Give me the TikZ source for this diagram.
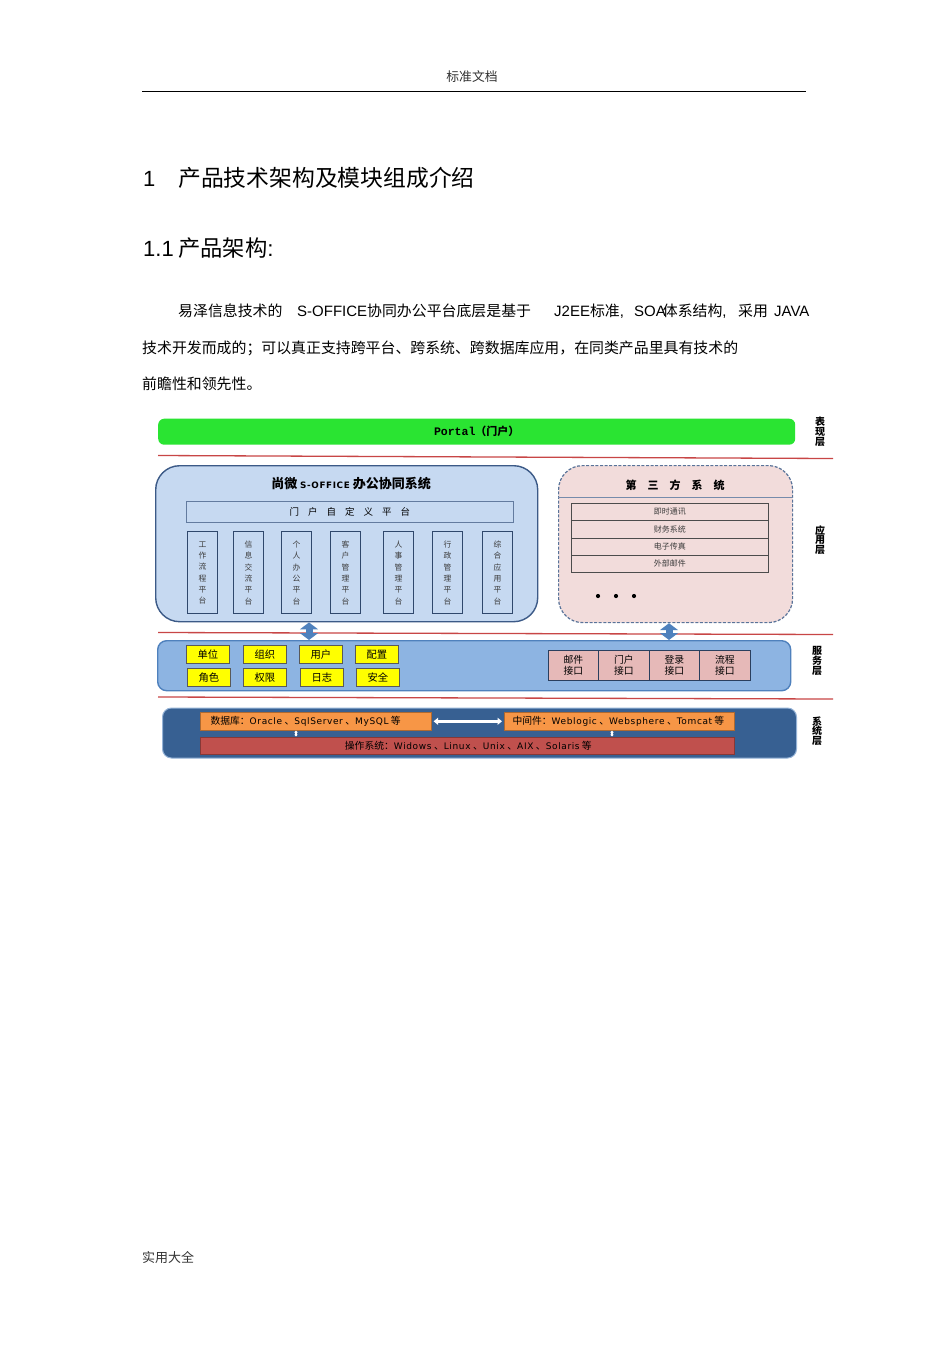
\documentclass[tikz,border=0pt]{standalone}
\usepackage{fontspec}
\setmainfont{Liberation Sans}
\newfontfamily\cjk{Noto Sans CJK SC}
\newfontfamily\lat{Liberation Sans}
\newfontfamily\mono{Liberation Mono}
\newfontfamily\dvs[LetterSpace=7]{DejaVu Sans}
\usetikzlibrary{arrows.meta}
\definecolor{cgreen}{RGB}{42,228,50}
\definecolor{cblue}{RGB}{198,217,241}
\definecolor{cborder}{RGB}{60,90,135}
\definecolor{cpink}{RGB}{242,220,219}
\definecolor{csvc}{RGB}{141,180,226}
\definecolor{csvcb}{RGB}{79,129,189}
\definecolor{cyel}{RGB}{255,255,0}
\definecolor{cifc}{RGB}{230,185,184}
\definecolor{csys}{RGB}{55,96,146}
\definecolor{corange}{RGB}{247,150,70}
\definecolor{cred}{RGB}{192,80,77}
\definecolor{cline}{RGB}{200,70,70}
\definecolor{carrow}{RGB}{79,129,189}
\definecolor{ctxt}{RGB}{60,60,60}
\newcommand{\dl}[1]{{\dvs\fontsize{9}{10}\selectfont #1}}
\newcommand{\dn}{\hspace{2.5pt}、}
\tikzset{
  cjkf/.style={font=\cjk\fontsize{#1}{#1}\selectfont},
  redline/.style={draw=cline, line width=1.3pt},
  plainbox/.style={inner sep=0pt, anchor=north west},
  vbox/.style={plainbox, draw=cborder!80!black, line width=0.8pt, minimum width=30pt, minimum height=82pt},
  vtext/.style={align=center, text=ctxt, font=\cjk\fontsize{7.8}{11.3}\selectfont},
  ybox/.style={plainbox, fill=cyel, draw=black!65, line width=0.8pt, minimum width=43pt, minimum height=18pt, font=\cjk\fontsize{10.3}{11}\selectfont},
  ibox/.style={plainbox, fill=cifc, draw=cborder!70!black, line width=0.8pt, minimum height=30pt, align=center, font=\cjk\fontsize{9.8}{11}\selectfont},
  trow/.style={plainbox, draw=black!70, line width=0.7pt, minimum width=197pt, minimum height=17.25pt, font=\cjk\fontsize{8}{8}\selectfont, text=ctxt},
  layer/.style={align=center, font=\cjk\bfseries\fontsize{10}{9.8}\selectfont},
  sysf/.style={font=\cjk\fontsize{9.8}{10}\selectfont},
  blockarrow/.style={draw=carrow, line width=7pt, {Triangle[width=18pt,length=7pt]}-{Triangle[width=18pt,length=7pt]}},
  whitearrow/.style={draw=white, line width=2.4pt, {Triangle[width=7pt,length=4.5pt]}-{Triangle[width=7pt,length=4.5pt]}},
  tinyarrow/.style={draw=white, line width=1.2pt, {Triangle[width=3.5pt,length=2pt]}-{Triangle[width=3.5pt,length=2pt]}}
}
\begin{document}
\begin{tikzpicture}[x=1pt,y=-1pt]
\useasboundingbox (0,0) rectangle (950,1345);
\fill[white] (0,0) rectangle (950,1345);
% header / footer
\node[anchor=base, inner sep=0pt, cjkf=12.8, text=black!80] (hdr) at (472,81) {标准文档};
\draw[line width=0.8pt] (142,91) -- (806,91);
\node[anchor=base west, inner sep=0pt, cjkf=13, text=black!80] (ftr) at (142,1262) {实用大全};
% titles
\node[anchor=base west, inner sep=0pt, font=\lat\fontsize{22}{26}\selectfont] (t1n) at (143,186.5) {1};
\node[anchor=base west, inner sep=0pt, cjkf=22.8] (t1) at (178,186.5) {产品技术架构及模块组成介绍};
\node[anchor=base west, inner sep=0pt, font=\lat\fontsize{22}{26}\selectfont] (t2n) at (143,256.5) {1.1};
\node[anchor=base west, inner sep=0pt, cjkf=22.3] (t2) at (178,256.5) {产品架构\lat:};
% body
\node[anchor=base west, inner sep=0pt, cjkf=14.9] (b1a) at (178,316.7) {易泽信息技术的};
\node[anchor=base west, inner sep=0pt, cjkf=14.9] (b1b) at (297,316.7) {{\lat\fontsize{15}{15}\selectfont S-OFFICE}协同办公平台底层是基于};
\node[anchor=base west, inner sep=0pt, cjkf=14.9] (b1c) at (554,316.7) {{\lat\fontsize{15}{15}\selectfont J2EE}标准{\lat,}};
\node[anchor=base west, inner sep=0pt, cjkf=14.9] (b1d) at (634,316.7) {{\lat\fontsize{15}{15}\selectfont SOA}\kern-3pt 体系结构{\lat,}};
\node[anchor=base west, inner sep=0pt, cjkf=14.9] (b1e) at (738,316.7) {采用};
\node[anchor=base west, inner sep=0pt, font=\lat\fontsize{15}{15}\selectfont] (b1f) at (774,316.7) {JAVA};
\node[anchor=base west, inner sep=0pt, cjkf=14.9] (b2) at (142,353.7) {技术开发而成的；可以真正支持跨平台、跨系统、跨数据库应用，在同类产品里具有技术的};
\node[anchor=base west, inner sep=0pt, cjkf=14.9] (b3) at (142,389.7) {前瞻性和领先性。};
% ---------------- diagram ----------------
% presentation layer
\node[plainbox, fill=cgreen, rounded corners=6pt, minimum width=637pt, minimum height=26pt] (portal) at (158,418.5) {};
\node at (portal.center) {{\mono\bfseries\fontsize{11.5}{12}\selectfont Portal}{\cjk\bfseries\fontsize{11}{12}\selectfont （门户）}};
\node[layer] (L1) at (820,432) {表\\现\\层};
\draw[redline] (158,455.5) -- (833,458.5);
% application layer: OA system
\node[plainbox, fill=cblue, draw=cborder, line width=1.4pt, rounded corners=24pt, minimum width=382pt, minimum height=156pt] (oa) at (155,465) {};
\node[font=\cjk\bfseries\fontsize{13}{13}\selectfont] (oat) at (351,484) {尚微 {\dvs\bfseries\fontsize{8.8}{10}\selectfont S-OFFICE} 办公协同系统};
\node[plainbox, draw=cborder!80, line width=0.8pt, minimum width=327pt, minimum height=21pt] (mh) at (186,501) {};
\node[cjkf=9.5] at (mh.center) {门\hspace{9pt}户\hspace{9pt}自\hspace{9pt}定\hspace{9pt}义\hspace{9pt}平\hspace{9pt}台};
\foreach \x/\t [count=\i] in {187/{工\\作\\流\\程\\平\\台},233/{信\\息\\交\\流\\平\\台},281/{个\\人\\办\\公\\平\\台},330/{客\\户\\管\\理\\平\\台},383/{人\\事\\管\\理\\平\\台},432/{行\\政\\管\\理\\平\\台},482/{综\\合\\应\\用\\平\\台}}{
  \node[vbox] (v\i) at (\x,531) {};
  \node[vtext] at ([yshift=-0.5pt]v\i.center) {\t};
}
% application layer: third party
\node[plainbox, fill=cpink, draw=cborder!85, line width=1.2pt, dash pattern=on 3pt off 1.6pt, rounded corners=24pt, minimum width=234pt, minimum height=157pt] (tp) at (558,465) {};
\node[font=\cjk\bfseries\fontsize{11}{12}\selectfont] (tpt) at (675,485) {第\hspace{11pt}三\hspace{11pt}方\hspace{11pt}系\hspace{11pt}统};
\draw[draw=cborder!70, line width=0.7pt] (tp.west |- 0,497) -- (tp.east |- 0,497);
\node[trow] (r1) at (571,503) {即时通讯};
\node[trow] (r2) at (571,520.25) {财务系统};
\node[trow] (r3) at (571,537.5) {电子传真};
\node[trow] (r4) at (571,554.75) {外部邮件};
\fill (598,596) circle (2.1pt);
\fill (616,596) circle (2.1pt);
\fill (634,596) circle (2.1pt);
\node[layer] (L2) at (820,540) {应\\用\\层};
\draw[redline] (158,632.5) -- (833,634.5);
% service layer
\node[plainbox, fill=csvc, draw=csvcb, line width=1.4pt, rounded corners=9pt, minimum width=633pt, minimum height=50pt] (svc) at (157,640) {};
\coordinate (k1) at (309,0);
\coordinate (k2) at (669,0);
\draw[blockarrow] (k1 |- oa.south) -- (k1 |- svc.north);
\draw[blockarrow] (k2 |- tp.south) -- (k2 |- svc.north);
\node[ybox] (y1) at (186,645) {单位};
\node[ybox] (y2) at (243,645) {组织};
\node[ybox] (y3) at (299,645) {用户};
\node[ybox] (y4) at (355,645) {配置};
\node[ybox] (y5) at (187,668) {角色};
\node[ybox] (y6) at (243,668) {权限};
\node[ybox] (y7) at (300,668) {日志};
\node[ybox] (y8) at (356,668) {安全};
\node[ibox, minimum width=50pt] (i1) at (548,650) {邮件\\接口};
\node[ibox, minimum width=51pt] (i2) at (598,650) {门户\\接口};
\node[ibox, minimum width=50pt] (i3) at (649,650) {登录\\接口};
\node[ibox, minimum width=51pt] (i4) at (699,650) {流程\\接口};
\node[layer] (L3) at (817,661) {服\\务\\层};
\draw[redline] (158,697) -- (833,699);
% system layer
\node[plainbox, fill=csys, draw=csvcb!60, line width=1pt, rounded corners=9pt, minimum width=634pt, minimum height=50pt] (sys) at (162,707.5) {};
\node[plainbox, fill=corange, draw=corange!70!black, line width=0.6pt, minimum width=231pt, minimum height=18pt] (db) at (200,712) {};
\node[anchor=west, sysf] at ([xshift=7pt]db.west) {数据库：\dl{Oracle}\dn\dl{SqlServer}\dn\dl{MySQL} 等};
\node[plainbox, fill=corange, draw=corange!70!black, line width=0.6pt, minimum width=230pt, minimum height=18pt] (mw) at (504,712) {};
\node[anchor=west, sysf] at ([xshift=5pt]mw.west) {中间件：\dl{Weblogic}\dn\dl{Websphere}\dn\dl{Tomcat} 等};
\node[plainbox, fill=cred, draw=cred!70!black, line width=0.6pt, minimum width=534pt, minimum height=17pt] (os) at (200,736.5) {};
\node[sysf] at ([xshift=1pt]os.center) {操作系统：\dl{Widows}\dn\dl{Linux}\dn\dl{Unix}\dn\dl{AIX}\dn\dl{Solaris} 等};
\draw[whitearrow] ([xshift=2pt]db.east) -- ([xshift=-2pt]mw.west);
\coordinate (u1) at (296,0);
\coordinate (u2) at (612,0);
\draw[tinyarrow] (u1 |- db.south) -- (u1 |- os.north);
\draw[tinyarrow] (u2 |- mw.south) -- (u2 |- os.north);
\node[layer] (L4) at (817,731) {系\\统\\层};
\end{tikzpicture}
\end{document}
